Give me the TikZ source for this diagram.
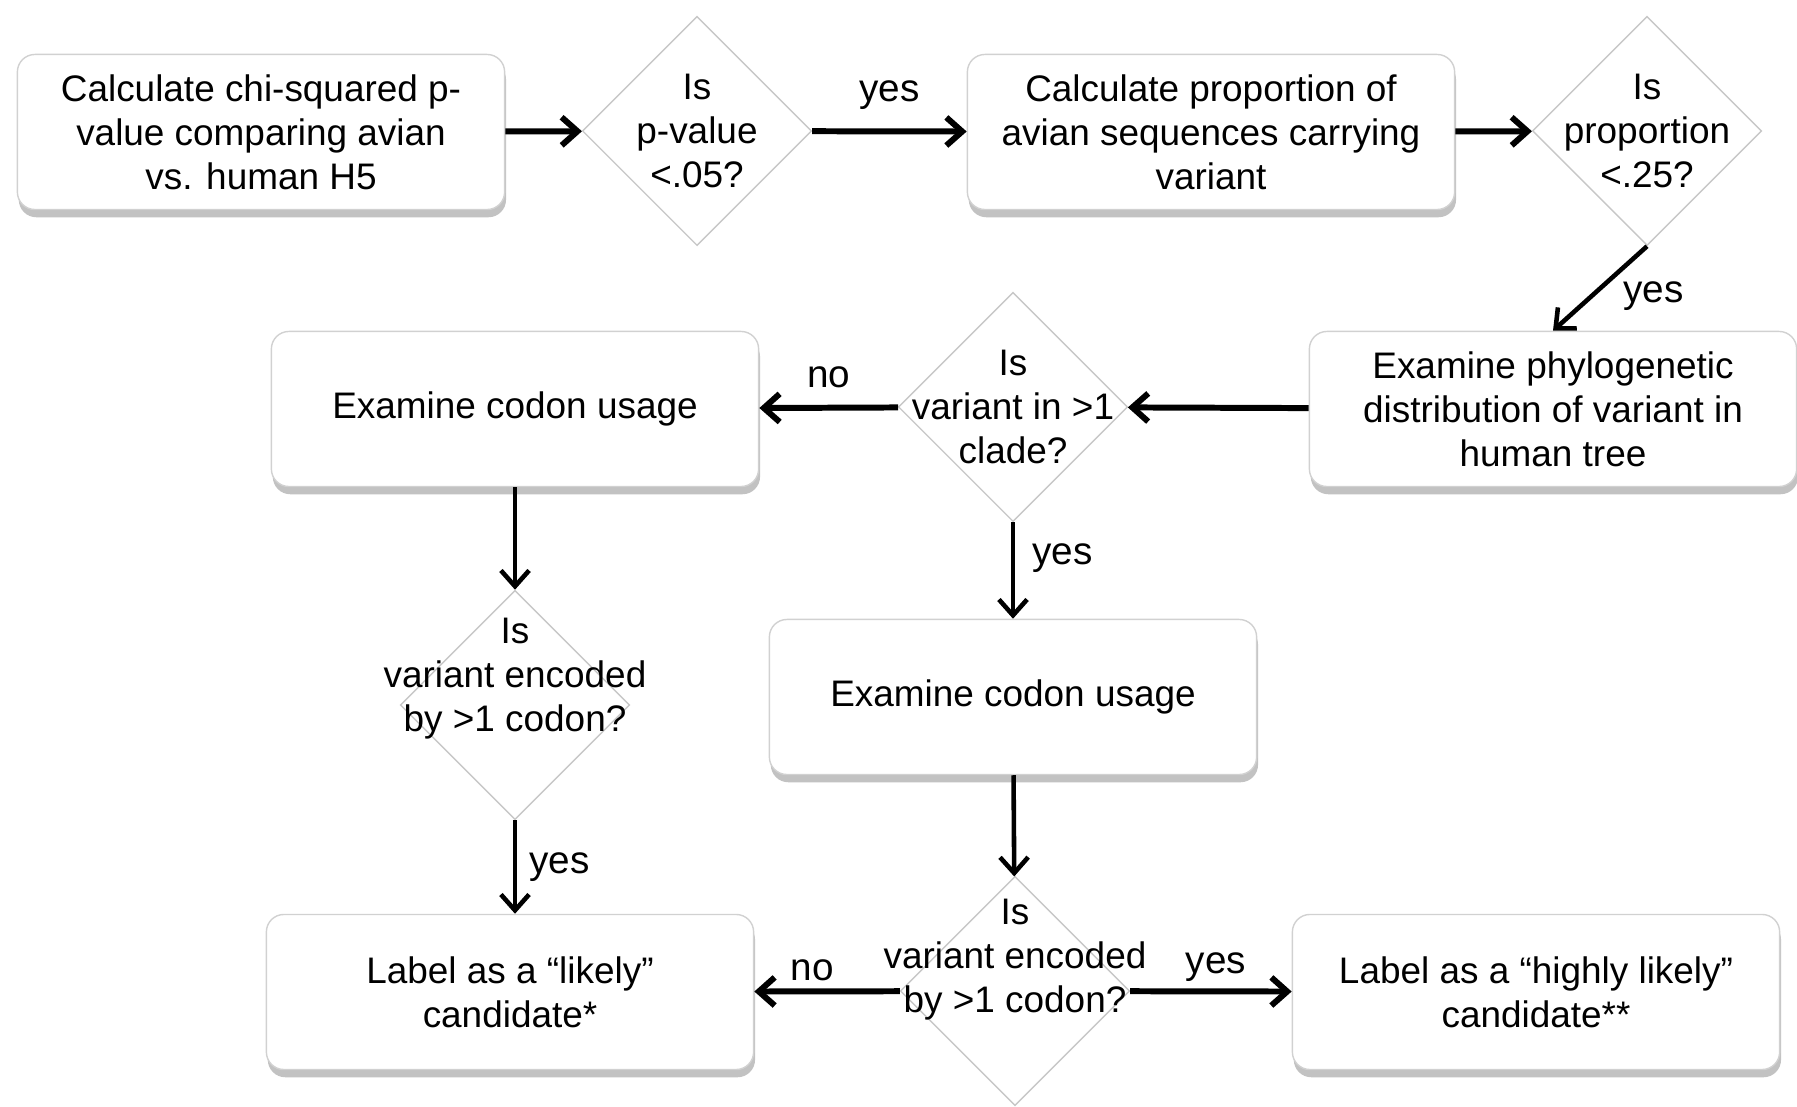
\documentclass[tikz,border=0pt]{standalone}
\usepackage{fontspec}
\setmainfont{Liberation Sans}
\usepackage{tikz}
\usetikzlibrary{positioning,shapes,shadows,arrows.meta}
\tikzset{
  basic/.style  = {draw=black!18, fill=white, font=\fontsize{10.5}{12.5}\selectfont},
  stepbox/.style = {basic, rectangle, rounded corners=5pt, align=center,
                   minimum width=4.87cm, minimum height=1.55cm, inner sep=2pt,
                   drop shadow={shadow xshift=0.4pt, shadow yshift=-2.2pt,
                   fill=black!40, opacity=0.6}},
  query/.style  = {basic, diamond, draw=black!22, minimum width=2.29cm,
                   minimum height=2.29cm, inner sep=0pt},
  qtext/.style  = {font=\fontsize{10.5}{12.5}\selectfont, align=center},
  post/.style   = {-{Straight Barb[length=4.5pt,width=8pt]}, line width=1.7pt},
  down/.style   = {post, line width=1.3pt},
  lbl/.style    = {font=\fontsize{11}{13}\selectfont, inner sep=2pt}
}

\begin{document}
\begin{tikzpicture}[x=0.01cm, y=-0.01cm]
  \useasboundingbox (0,0) rectangle (1797,1107);
  % top row
  \node[stepbox] (b1) at (261,132) {Calculate chi-squared p-\\value comparing avian\\vs. human H5};
  \node[query, label={[qtext, name=d1t]center:{Is\\p-value\\<.05?}}] (d1) at (697,131) {};
  \node[stepbox] (b2) at (1211,132) {Calculate proportion of\\avian sequences carrying\\variant};
  \node[query, label={[qtext, name=d2t]center:{Is\\proportion\\<.25?}}] (d2) at (1647,131) {};
  % middle row
  \node[stepbox] (b3) at (1553,409) {Examine phylogenetic\\distribution of variant in\\human tree};
  \node[query, label={[qtext, name=d3t]center:{Is\\variant in >1\\clade?}}] (d3) at (1013,407) {};
  \node[stepbox] (b4) at (515,409) {Examine codon usage};
  \node[query, label={[qtext, name=d4t, yshift=0.26cm]center:{Is\\variant encoded\\by >1 codon?}}] (d4) at (515,705) {};
  \node[stepbox] (b6) at (1013,697) {Examine codon usage};
  % bottom row
  \node[stepbox] (b5) at (510,992) {Label as a “likely”\\candidate*};
  \node[query, label={[qtext, name=d5t, yshift=0.31cm]center:{Is\\variant encoded\\by >1 codon?}}] (d5) at (1015,991) {};
  \node[stepbox] (b7) at (1536,992) {Label as a “highly likely”\\candidate**};

  \draw[post] (b1) -- (d1);
  \draw[post] (d1) -- node[lbl, above, yshift=0.12cm] (y1) {yes} (b2);
  \draw[post] (b2) -- (d2);
  \draw[down] (d2.south) -- node[lbl, right=4pt, yshift=-0.08cm] (y2) {yes} (b3.north);
  \draw[post] (b3) -- (d3);
  \draw[post] (d3) -- node[lbl, above, yshift=0.1cm] (n1) {no} (b4);
  \draw[down] (b4) -- (d4);
  \draw[down] (d4.south) -- node[lbl, right, xshift=0.05cm] (y3) {yes} (d4.south |- b5.north);
  \draw[down] (d3) -- node[lbl, right, xshift=0.1cm, yshift=0.12cm] (y4) {yes} (b6);
  \draw[down] (b6) -- (d5);
  \draw[post] (d5) -- node[lbl, above, xshift=-0.15cm] (n2) {no} (b5);
  \draw[post] (d5) -- node[lbl, above, xshift=0.05cm] (y5) {yes} (b7);
\end{tikzpicture}
\end{document}
